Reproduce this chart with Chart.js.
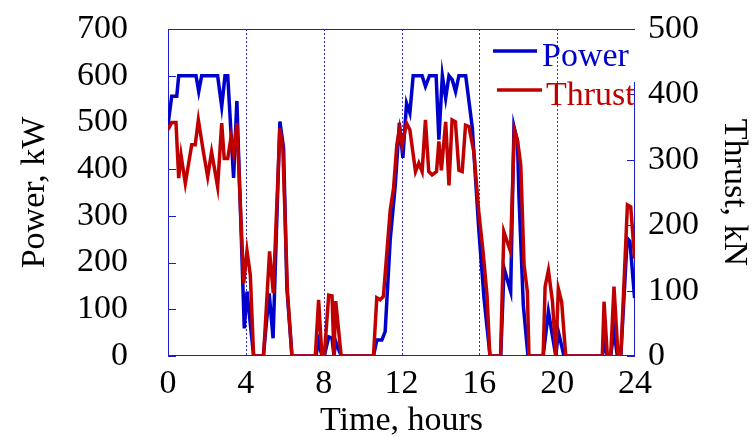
<!DOCTYPE html>
<html>
<head>
<meta charset="utf-8">
<script src="https://cdn.jsdelivr.net/npm/chart.js@4"></script>
<style>
    html, body { margin: 0; padding: 0; background: #fff; }
</style>
</head>
<body>
<canvas id="myChart" width="753" height="438"></canvas>
<script>
const ctx = document.getElementById("myChart");

// power trace, hours / kW
const powerTime = [
    0, 0.19, 0.45, 0.55, 1.44, 1.58, 1.73, 2.55, 2.76, 2.93, 3.07, 3.37, 3.54, 3.92, 4.06, 4.4,
    4.9, 5.2, 5.4, 5.75, 5.94, 6.11, 6.37, 7.6, 7.74, 7.91, 8.03, 8.26, 8.43, 8.53, 8.62, 8.9,
    10.56, 10.73, 10.99, 11.16, 11.42, 11.68, 11.89, 12.07, 12.26, 12.43, 12.6, 13.06, 13.23, 13.44,
    13.78, 13.92, 14.1, 14.27, 14.44, 14.61, 14.78, 14.95, 15.3, 15.64, 15.98, 16.24, 16.55, 17.1,
    17.27, 17.61, 17.78, 17.96, 18.04, 18.26, 18.5, 19.28, 19.55, 19.93, 20.06, 20.35, 22.32, 22.44,
    22.58, 22.75, 22.92, 23.09, 23.27, 23.6, 23.74, 23.98,
];
const powerKW = [
    495, 556, 556, 600, 600, 566, 600, 600, 534, 600, 600, 381, 546, 59, 138, 0,
    0, 134, 38, 502, 445, 145, 0, 0, 31, 0, 0, 41, 38, 0, 31, 0,
    0, 34, 34, 52, 249, 366, 499, 424, 541, 520, 600, 600, 577, 600,
    600, 463, 600, 552, 600, 591, 566, 600, 600, 488, 266, 124, 0, 0,
    188, 138, 491, 459, 338, 109, 0, 0, 95, 0, 52, 0, 0, 27,
    0, 0, 56, 0, 0, 252, 245, 124,
];

// thrust trace, hours / kN
const thrustTime = [
    0, 0.19, 0.41, 0.55, 0.67, 0.89, 1.22, 1.4, 1.56, 1.82, 2.04, 2.24, 2.55, 2.76, 2.89, 3.07,
    3.24, 3.37, 3.54, 3.89, 4.06, 4.23, 4.4, 4.91, 5.22, 5.41, 5.75, 5.9, 6.14, 6.37, 7.57, 7.74,
    7.91, 8.03, 8.26, 8.43, 8.53, 8.62, 8.9, 10.56, 10.73, 10.9, 11.07, 11.42, 11.59, 11.76, 11.9,
    12.03, 12.26, 12.43, 12.72, 12.89, 13.06, 13.23, 13.4, 13.57, 13.8, 13.92, 14.05, 14.27, 14.44,
    14.6, 14.77, 14.95, 15.12, 15.29, 15.46, 15.72, 15.97, 16.19, 16.4, 16.54, 17.09, 17.26, 17.6,
    17.8, 17.96, 18.13, 18.3, 18.47, 18.55, 19.28, 19.38, 19.55, 19.76, 19.93, 20.06, 20.23, 20.44,
    22.32, 22.41, 22.58, 22.75, 22.92, 23.13, 23.27, 23.61, 23.78, 23.98,
];
const thrustKN = [
    346, 357, 357, 272, 307, 264, 323, 323, 361, 312, 274, 312, 259, 356, 302, 302,
    335, 310, 356, 111, 161, 124, 0, 0, 160, 96, 348, 318, 98, 0, 0, 86,
    0, 0, 93, 92, 0, 84, 0, 0, 89, 86, 91, 223, 256, 323, 348,
    323, 356, 346, 282, 295, 282, 361, 282, 277, 282, 328, 284, 358, 261,
    361, 358, 284, 282, 353, 351, 312, 221, 160, 91, 0, 0, 190, 160,
    346, 330, 292, 139, 98, 0, 0, 106, 131, 83, 0, 103, 83, 0,
    0, 83, 0, 0, 106, 0, 0, 231, 228, 149,
];

const xTicks = [0, 4, 8, 12, 16, 20, 24];

const blue = "#0000cc";
const red = "#c00000";
const axisBlue = "#1c1cd0";
const gridBlue = "#2a2af0";
const serif = "'Liberation Serif', 'Times New Roman', serif";

// axes frame, dotted hour lines, inward ticks
const frame = {
    id: "frame",
    beforeDatasetsDraw(chart) {
        const { ctx, chartArea: a, scales } = chart;
        ctx.save();
        ctx.lineWidth = 1;

        ctx.strokeStyle = gridBlue;
        ctx.setLineDash([2, 2]);
        ctx.beginPath();
        scales.x.ticks.forEach((t) => {
            if (t.value === 0 || t.value === 24) return;
            const x = Math.round(scales.x.getPixelForValue(t.value)) + 0.5;
            ctx.moveTo(x, a.top);
            ctx.lineTo(x, a.bottom);
        });
        ctx.stroke();
        ctx.setLineDash([]);

        ctx.strokeStyle = axisBlue;
        ctx.beginPath();
        ctx.moveTo(a.left, a.top + 0.5);
        ctx.lineTo(a.right, a.top + 0.5);
        ctx.moveTo(a.left + 0.5, a.top);
        ctx.lineTo(a.left + 0.5, a.bottom);
        ctx.moveTo(a.left, a.bottom - 0.5);
        ctx.lineTo(a.right, a.bottom - 0.5);
        ctx.moveTo(a.right - 0.5, a.top + 53);
        ctx.lineTo(a.right - 0.5, a.bottom);
        scales.y.ticks.forEach((t) => {
            const y = Math.round(scales.y.getPixelForValue(t.value)) + 0.5;
            ctx.moveTo(a.left, y);
            ctx.lineTo(a.left + 8, y);
        });
        scales.y1.ticks.forEach((t) => {
            const y = Math.round(scales.y1.getPixelForValue(t.value)) + 0.5;
            ctx.moveTo(a.right - 8, y);
            ctx.lineTo(a.right, y);
        });
        ctx.stroke();
        ctx.restore();
    },
};

// legend inside the plot, top right
const legendBox = {
    id: "legendBox",
    afterDraw(chart) {
        const c = chart.ctx;
        c.save();
        c.lineWidth = 3.5;
        c.font = "34px " + serif;
        c.textBaseline = "alphabetic";
        c.strokeStyle = blue;
        c.beginPath();
        c.moveTo(493, 51);
        c.lineTo(537, 51);
        c.stroke();
        c.fillStyle = blue;
        c.fillText("Power", 542, 65.5);
        c.strokeStyle = red;
        c.beginPath();
        c.moveTo(497, 90);
        c.lineTo(542, 90);
        c.stroke();
        c.fillStyle = red;
        c.fillText("Thrust", 546, 105);
        c.restore();
    },
};

const chart = new Chart(ctx, {
    type: "line",
    data: {
        datasets: [
            {
                label: "Power",
                data: powerTime.map((t, i) => ({ x: t, y: powerKW[i] })),
                yAxisID: "y",
                borderColor: blue,
                borderWidth: 3.5,
                pointRadius: 0,
                tension: 0,
                order: 2,
            },
            {
                label: "Thrust",
                data: thrustTime.map((t, i) => ({ x: t, y: thrustKN[i] })),
                yAxisID: "y1",
                borderColor: red,
                borderWidth: 3.5,
                pointRadius: 0,
                tension: 0,
                order: 1,
            },
        ],
    },
    options: {
        responsive: false,
        animation: false,
        layout: {
            padding: { top: 29, left: 0, right: 0, bottom: 0 },
        },
        scales: {
            x: {
                type: "linear",
                min: 0,
                max: 24,
                afterBuildTicks: (s) => {
                    s.ticks = xTicks.map((v) => ({ value: v }));
                },
                afterFit: (s) => {
                    s.height = 82;
                    s.paddingLeft = 0;
                    s.paddingRight = 0;
                },
                grid: { display: false, drawTicks: false },
                border: { display: false },
                ticks: {
                    autoSkip: false,
                    padding: 8,
                    color: "#000",
                    font: { family: serif, size: 34 },
                    maxRotation: 0,
                },
                title: {
                    display: true,
                    text: "Time, hours",
                    color: "#000",
                    font: { family: serif, size: 34, lineHeight: 1 },
                    padding: 0,
                },
            },
            y: {
                position: "left",
                min: 0,
                max: 700,
                afterFit: (s) => {
                    s.width = 168;
                    s.paddingTop = 0;
                    s.paddingBottom = 0;
                },
                grid: { display: false, drawTicks: false },
                border: { display: false },
                ticks: {
                    autoSkip: false,
                    stepSize: 100,
                    padding: 40,
                    color: "#000",
                    font: { family: serif, size: 34 },
                },
                title: {
                    display: true,
                    text: "Power, kW",
                    color: "#000",
                    font: { family: serif, size: 34, lineHeight: 1 },
                    padding: { top: 18, bottom: 0 },
                },
            },
            y1: {
                position: "right",
                min: 0,
                max: 500,
                afterFit: (s) => {
                    s.width = 118;
                    s.paddingTop = 0;
                    s.paddingBottom = 0;
                },
                grid: { display: false, drawTicks: false },
                border: { display: false },
                ticks: {
                    autoSkip: false,
                    stepSize: 100,
                    padding: 13,
                    color: "#000",
                    font: { family: serif, size: 34 },
                },
                title: {
                    display: true,
                    text: "Thrust, kN",
                    color: "#000",
                    font: { family: serif, size: 34, lineHeight: 1 },
                    padding: { top: 2, bottom: 0 },
                },
            },
        },
        plugins: {
            legend: { display: false },
            tooltip: { enabled: false },
        },
    },
    plugins: [frame, legendBox],
});
</script>
</body>
</html>
